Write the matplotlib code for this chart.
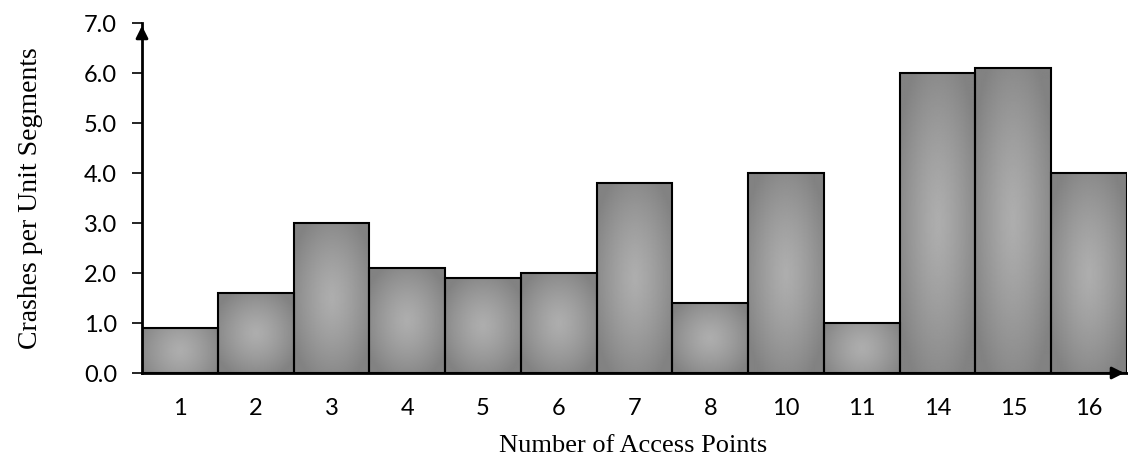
import matplotlib.pyplot as plt
import numpy as np

# access point counts and crash rates per unit segment
access_points = ['1', '2', '3', '4', '5', '6', '7', '8', '10', '11', '14', '15', '16']
crash_rates = [0.9, 1.6, 3.0, 2.1, 1.9, 2.0, 3.8, 1.4, 4.0, 1.0, 6.0, 6.1, 4.0]
y_ticks = [0, 1, 2, 3, 4, 5, 6, 7]

W, H = 1128, 457
fig = plt.figure(figsize=(W / 100, H / 100), dpi=100)
ax = fig.add_axes([142 / W, 84 / H, 985 / W, 350 / H])

x = np.arange(len(access_points))
bars = ax.bar(x, crash_rates, width=1.0, align='edge', facecolor='none',
              edgecolor='black', linewidth=1.5, zorder=3)

# radial grey shading inside each bar
gx, gy = np.meshgrid(np.linspace(-1, 1, 60), np.linspace(-1, 1, 200))
for b in bars:
    h = b.get_height()
    aspect = h * 50 / 76.0
    r = np.sqrt(gx ** 2 + (gy * aspect / max(aspect, 1.0)) ** 2)
    shade = 0.68 - 0.17 * np.clip(r / 1.2, 0, 1) ** 1.3
    ax.imshow(shade, cmap='gray', vmin=0, vmax=1, aspect='auto', origin='lower',
              extent=(b.get_x(), b.get_x() + b.get_width(), 0, h),
              interpolation='bilinear', zorder=2)

ax.set_xlim(0, len(access_points))
ax.set_ylim(0, 7)
ax.set_yticks(y_ticks)
ax.set_yticklabels([f'{v:.1f}' for v in y_ticks], fontsize=17, family='Lato')
ax.set_xticks(x + 0.5)
ax.set_xticklabels(access_points, fontsize=17, family='Lato')
ax.tick_params(axis='x', length=0, pad=18)
ax.tick_params(axis='y', length=7, width=1.2, pad=11, direction='out')

for s in ['top', 'right']:
    ax.spines[s].set_visible(False)
ax.spines['left'].set_linewidth(2)
ax.spines['bottom'].set_linewidth(2)

# arrow heads on both axes
ax.annotate('', xy=(0, 1.0), xytext=(0, 0.95), xycoords='axes fraction',
            arrowprops=dict(arrowstyle='-|>', color='black', lw=2, mutation_scale=18),
            annotation_clip=False)
ax.annotate('', xy=(1.0, 0), xytext=(0.98, 0), xycoords='axes fraction',
            arrowprops=dict(arrowstyle='-|>', color='black', lw=2, mutation_scale=18),
            annotation_clip=False)

fig.text(633 / W, 5 / H, 'Number of Access Points', fontsize=19,
         family='Liberation Serif', ha='center', va='baseline')
fig.text(31 / W, 1 - 198 / H, 'Crashes per Unit Segments', fontsize=20,
         family='Liberation Serif', ha='center', va='center', rotation=90)

fig.savefig('out.png', dpi=100)
